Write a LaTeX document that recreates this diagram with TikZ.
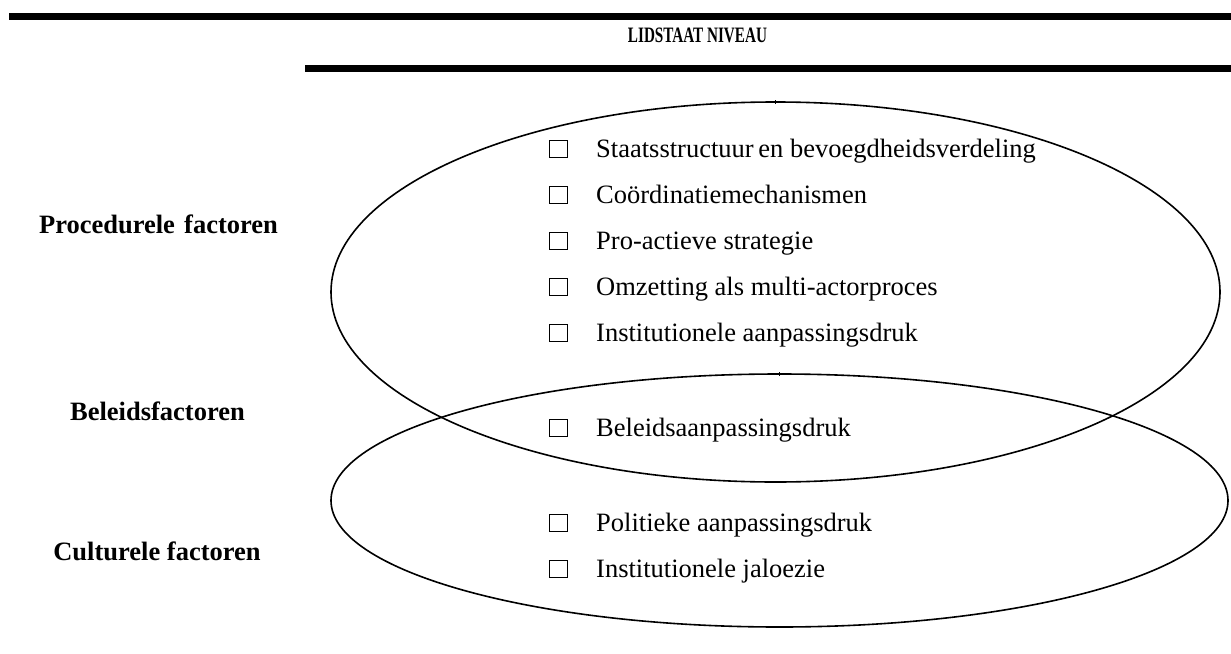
\documentclass[tikz,border=0pt]{standalone}
\usepackage{fontspec}
\setmainfont{Liberation Serif}
\usetikzlibrary{shapes.geometric}
\begin{document}
\begin{tikzpicture}[x=1pt,y=-1pt,
  rule/.style={line width=7pt},
  ring/.style={draw, ellipse, line width=1.6pt, inner sep=0pt, outer sep=0pt},
  mark tick/.style={line width=0.8pt},
  tickbox/.style={draw, line width=1.8pt, minimum width=18pt, minimum height=17pt, inner sep=0pt},
  item/.style={anchor=base west, inner sep=0pt, font=\fontsize{26.5}{30}\selectfont},
  factor/.style={anchor=base, inner sep=0pt, font=\fontsize{26.5}{30}\selectfont\bfseries}]
\useasboundingbox (0,0) rectangle (1231,653);

% heading rules and title
\coordinate (topL) at (9,16.5);
\coordinate (topR) at (1231,16.5);
\coordinate (subL) at (305,68.5);
\coordinate (subR) at (1231,68.5);
\draw[rule] (topL) -- (topR);
\draw[rule] (subL) -- (subR);
\node[anchor=base, inner sep=0pt, font=\fontsize{22}{26}\selectfont\bfseries] (level) at (697.5,42.5)
  {\scalebox{0.69}[1]{LIDSTAAT NIVEAU}};

% the two overlapping groups
\node[ring, minimum width=889pt, minimum height=380pt] (upper) at (775.5,292) {};
\node[ring, minimum width=897pt, minimum height=253pt] (lower) at (779.5,500.5) {};
\draw[mark tick] ([yshift=2pt]upper.north) -- ([yshift=-2pt]upper.north);
\draw[mark tick] ([yshift=2pt]lower.north) -- ([yshift=-2pt]lower.north);

% factor labels
\node[factor] (fproc) at (158.5,233) {Procedurele\hspace{0.35em}factoren};
\node[factor] (fbel) at (157.5,420) {Beleidsfactoren};
\node[factor] (fcult) at (157,560) {Culturele factoren};

% checklist items
\node[tickbox] (b1) at (558.5,149) {};
\node[item] (t1) at (596,157.5) {Staatsstructuur\hspace{0.18em}en bevoegdheidsverdeling};
\node[tickbox] (b2) at (558.5,195) {};
\node[item] (t2) at (596,203.5) {Coördinatiemechanismen};
\node[tickbox] (b3) at (558.5,241) {};
\node[item] (t3) at (596,249.5) {Pro-actieve strategie};
\node[tickbox] (b4) at (558.5,287) {};
\node[item] (t4) at (596,295.5) {Omzetting als multi-actorproces};
\node[tickbox] (b5) at (558.5,333) {};
\node[item] (t5) at (596,341.5) {Institutionele aanpassingsdruk};
\node[tickbox] (b6) at (558.5,428) {};
\node[item] (t6) at (596,436.5) {Beleidsaanpassingsdruk};
\node[tickbox] (b7) at (558.5,523) {};
\node[item] (t7) at (596,531.5) {Politieke aanpassingsdruk};
\node[tickbox] (b8) at (558.5,569) {};
\node[item] (t8) at (596,577.5) {Institutionele jaloezie};
\end{tikzpicture}
\end{document}
